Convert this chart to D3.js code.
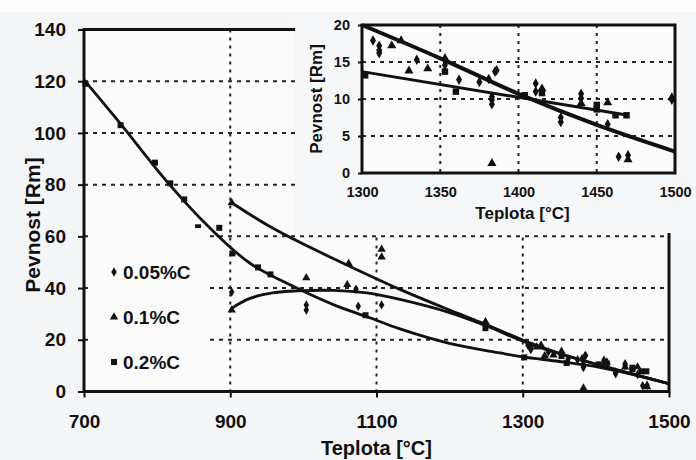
<!DOCTYPE html>
<html><head><meta charset="utf-8">
<script src="https://cdn.jsdelivr.net/npm/d3@7"></script>
<style>
html,body{margin:0;padding:0;background:#f5f6f8;}
svg{display:block;}
text{font-family:"Liberation Sans",Arial,sans-serif;font-weight:bold;fill:#111;}
</style></head>
<body>
<svg id="c" width="696" height="460"></svg>
<script>
// ---- data ----
const seriesNames = ["0.05%C", "0.1%C", "0.2%C"];
// measured points [temperature, strength]
const pts005 = [[902,38.5],[1004,33.5],[1004,31.5],[1072,39.5],[1075,33],[1107,33.5],[1249,25],
  [1307,17.9],[1311,17.2],[1311,16.6],[1311,16.2],[1335,15.3],[1353,14.6],[1362,12.6],[1375,12.3],
  [1381,12.7],[1385,13.7],[1386,13.9],[1383,10.3],[1383,9.9],[1383,9.3],[1411,12.1],[1411,11.0],
  [1427,6.9],[1427,7.5],[1440,10.7],[1440,10.1],[1457,6.6],[1464,2.2],[1470,2.4],[1498,9.9]];
const pts01 = [[902,73],[902,31.5],[1004,44],[1062,49.5],[1060,41.3],[1107,55],[1107,52],[1249,27],
  [1319,17.2],[1325,17.9],[1330,13.8],[1342,14.1],[1353,15.5],[1383,1.3],[1415,11.4],[1440,9.4],
  [1457,9.5],[1470,1.8],[1498,10.2]];
const pts02 = [[702,119],[750,103],[797,88.5],[818,80.5],[837,74.3],[856,63.5],[885,63.3],[903,53.4],
  [938,48],[955,45.3],[1085,29.5],[1249,24.5],[1302,13.2],[1353,13.7],[1360,11.0],[1404,10.5],
  [1415,10.8],[1450,9.2],[1450,8.6],[1462,7.8],[1469,7.8]];
// trend lines of the main chart
const trend02 = [[700,120.5],[750,103.5],[814,81],[873,63],[927,49.6],[991,40],[1041,33.6],[1090,28.6],
  [1132,24.2],[1201,18.5],[1269,14.9],[1300,13.4],[1350,11.6],[1400,9.6],[1450,6.6],[1500,3.0]];
const trend01 = [[902,73],[950,64.5],[1000,57],[1062,48.6],[1132,39.5],[1200,31.5],[1249,26],
  [1306,19.2],[1350,14.8],[1400,10.6],[1450,6.7],[1500,3]];
const trend005 = [[902,32.2],[927,36],[960,38.2],[991,38.9],[1041,39.1],[1087,38.1],[1132,35.6],
  [1200,30.5],[1249,25.5],[1306,18.8],[1350,14.6],[1400,10.6],[1450,6.8],[1500,3]];
// inset trend lines
const insetSteep = [[1300,20],[1350,15.5],[1400,10.7],[1450,6.5],[1500,2.9]];
const insetFlat = [[1300,13.7],[1470,7.8]];
// ticks
const mainXTicks = [700,900,1100,1300,1500];
const mainYTicks = [0,20,40,60,80,100,120,140];
const insXTicks = [1300,1350,1400,1450,1500];
const insYTicks = [0,5,10,15,20];

// ---- chart ----
const svg = d3.select("#c");
svg.append("rect").attr("x",0).attr("y",0).attr("width",696).attr("height",460).attr("fill","#f4f5f7");
svg.append("rect").attr("x",0).attr("y",0).attr("width",696).attr("height",12).attr("fill","#fdfdfd");

const x = d3.scaleLinear().domain([700,1500]).range([84,669]);
const y = d3.scaleLinear().domain([0,140]).range([391.5,29.5]);

svg.append("rect").attr("x",x(700)).attr("y",y(140)).attr("width",x(1500)-x(700)).attr("height",y(0)-y(140)).attr("fill","#fbfbfb");

const dashH = "4,5", dashV = "3,5";
// grid
svg.append("g").selectAll("line").data(mainYTicks.filter(d=>d>0&&d<140)).join("line")
  .attr("x1",x(700)).attr("x2",x(1500)).attr("y1",d=>y(d)).attr("y2",d=>y(d))
  .attr("stroke","#222").attr("stroke-width",2).attr("stroke-dasharray",dashH);
svg.append("g").selectAll("line").data([900,1100,1300]).join("line")
  .attr("x1",d=>x(d)).attr("x2",d=>x(d)).attr("y1",y(140)).attr("y2",y(0))
  .attr("stroke","#222").attr("stroke-width",2).attr("stroke-dasharray",dashV);

// axes
const ax = svg.append("g").attr("transform",`translate(0,${y(0)})`)
  .call(d3.axisBottom(x).tickValues(mainXTicks).tickSize(6).tickFormat(d3.format("d")));
const ay = svg.append("g").attr("transform",`translate(${x(700)},0)`)
  .call(d3.axisLeft(y).tickValues(mainYTicks).tickSize(6).tickPadding(12));
[ax,ay].forEach(a=>{a.select(".domain").remove();a.selectAll("line").attr("stroke","#111").attr("stroke-width",2);
  a.selectAll("text").attr("font-size",19).attr("font-family","Liberation Sans, Arial, sans-serif").attr("font-weight","bold").attr("fill","#111");});
ax.selectAll("text").attr("dy","0.71em").attr("y",23);

// frame
svg.append("rect").attr("x",x(700)).attr("y",y(140)).attr("width",x(1500)-x(700)).attr("height",y(0)-y(140))
  .attr("fill","none").attr("stroke","#111").attr("stroke-width",3);

// trend curves
const line = d3.line().x(d=>x(d[0])).y(d=>y(d[1])).curve(d3.curveCatmullRom.alpha(0.5));
[trend02,trend01,trend005].forEach(t=>svg.append("path").attr("d",line(t)).attr("fill","none")
  .attr("stroke","#111").attr("stroke-width",2.8));

// points
const sym = [d3.symbolDiamond, d3.symbolTriangle, d3.symbolSquare];
const sizes = [26, 30, 36];
const allPts = [pts005, pts01, pts02];
allPts.forEach((p,i)=>svg.append("g").selectAll("path").data(p.filter(d=>d[0]<1490)).join("path")
  .attr("transform",d=>`translate(${x(d[0])},${y(d[1])})`)
  .attr("d",d3.symbol().type(sym[i]).size(sizes[i])).attr("fill","#111"));

// legend box (covers grid)
svg.append("rect").attr("x",90).attr("y",228).attr("width",116).attr("height",160).attr("fill","#fbfbfb");
const lg = svg.append("g");
seriesNames.forEach((n,i)=>{
  const ly = 272 + i*45;
  lg.append("path").attr("transform",`translate(114,${ly})`).attr("d",d3.symbol().type(sym[i]).size(sizes[i])).attr("fill","#111");
  lg.append("text").attr("x",123).attr("y",ly).attr("dy","0.36em").attr("font-size",19).text(n);
});

// axis titles
svg.append("text").attr("x",(x(700)+x(1500))/2).attr("y",455).attr("text-anchor","middle").attr("font-size",20).text("Teplota [°C]");
svg.append("text").attr("transform","translate(40,225) rotate(-90)").attr("text-anchor","middle").attr("font-size",21).text("Pevnost [Rm]");

// ---- inset ----
svg.append("rect").attr("x",295).attr("y",12).attr("width",401).attr("height",221).attr("fill","#f6f7f9");
svg.append("rect").attr("x",295).attr("y",0).attr("width",401).attr("height",12).attr("fill","#fdfdfd");
const ix = d3.scaleLinear().domain([1300,1500]).range([362,675]);
const iy = d3.scaleLinear().domain([0,20]).range([173,25]);
svg.append("rect").attr("x",ix(1300)).attr("y",iy(20)).attr("width",ix(1500)-ix(1300)).attr("height",iy(0)-iy(20)).attr("fill","#fcfcfc");
svg.append("g").selectAll("line").data([5,10,15]).join("line")
  .attr("x1",ix(1300)).attr("x2",ix(1500)).attr("y1",d=>iy(d)).attr("y2",d=>iy(d))
  .attr("stroke","#222").attr("stroke-width",2).attr("stroke-dasharray",dashH);
svg.append("g").selectAll("line").data([1350,1400,1450]).join("line")
  .attr("x1",d=>ix(d)).attr("x2",d=>ix(d)).attr("y1",iy(20)).attr("y2",iy(0))
  .attr("stroke","#222").attr("stroke-width",2).attr("stroke-dasharray",dashV);
const iax = svg.append("g").attr("transform",`translate(0,${iy(0)})`)
  .call(d3.axisBottom(ix).tickValues(insXTicks).tickSize(0).tickFormat(d3.format("d")));
const iay = svg.append("g").attr("transform",`translate(${ix(1300)},0)`)
  .call(d3.axisLeft(iy).tickValues(insYTicks).tickSize(4).tickPadding(8));
[iax,iay].forEach(a=>{a.select(".domain").remove();a.selectAll("line").attr("stroke","#111").attr("stroke-width",2);
  a.selectAll("text").attr("font-size",14.5).attr("font-family","Liberation Sans, Arial, sans-serif").attr("font-weight","bold").attr("fill","#111");});
iax.selectAll("text").attr("dy","0.71em").attr("y",14);
svg.append("rect").attr("x",ix(1300)).attr("y",iy(20)).attr("width",ix(1500)-ix(1300)).attr("height",iy(0)-iy(20))
  .attr("fill","none").attr("stroke","#111").attr("stroke-width",3);
const iline = d3.line().x(d=>ix(d[0])).y(d=>iy(d[1])).curve(d3.curveCatmullRom.alpha(0.5));
svg.append("path").attr("d",iline(insetSteep)).attr("fill","none").attr("stroke","#111").attr("stroke-width",4);
svg.append("path").attr("d",iline(insetFlat)).attr("fill","none").attr("stroke","#111").attr("stroke-width",3);
allPts.forEach((p,i)=>svg.append("g").selectAll("path").data(p.filter(d=>d[0]>=1300)).join("path")
  .attr("transform",d=>`translate(${ix(d[0])},${iy(d[1])})`)
  .attr("d",d3.symbol().type(sym[i]).size(sizes[i]+6)).attr("fill","#111"));
svg.append("text").attr("x",(ix(1300)+ix(1500))/2+4).attr("y",219).attr("text-anchor","middle").attr("font-size",17).text("Teplota [°C]");
svg.append("text").attr("transform",`translate(322,${(iy(0)+iy(20))/2}) rotate(-90)`).attr("text-anchor","middle").attr("font-size",17).text("Pevnost [Rm]");
</script>
</body></html>
